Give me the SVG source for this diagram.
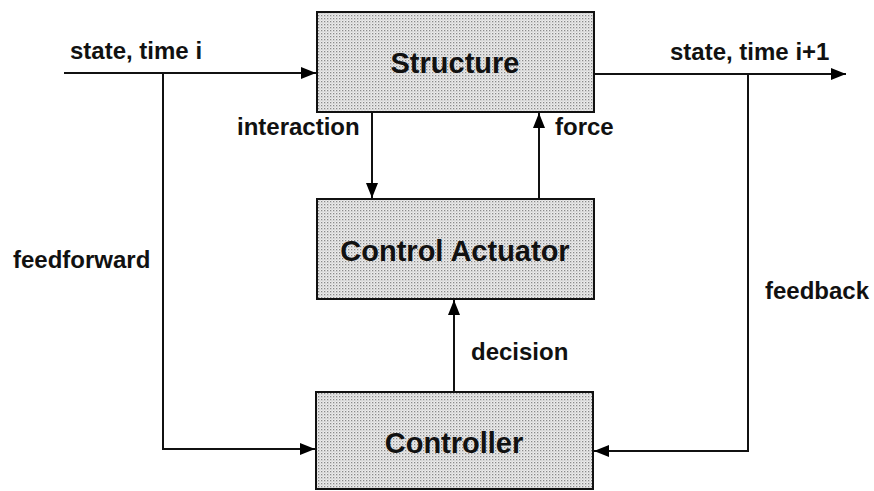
<svg xmlns="http://www.w3.org/2000/svg" width="874" height="491" viewBox="0 0 874 491">
<defs>
<pattern id="dots" width="3" height="3" patternUnits="userSpaceOnUse">
<rect width="3" height="3" fill="#ececec"/>
<rect x="0" y="0" width="1.3" height="1.3" fill="#8a8a8a"/>
<rect x="1.5" y="1.5" width="1" height="1" fill="#b5b5b5"/>
</pattern>
<marker id="ah" markerWidth="16" markerHeight="12" refX="15" refY="6" orient="auto" markerUnits="userSpaceOnUse">
<path d="M0,0 L15,6 L0,12 Z" fill="#000"/>
</marker>
</defs>
<style>
.box{fill:url(#dots);stroke:#111;stroke-width:2}
.t{font-family:"Liberation Sans",Arial,sans-serif;font-weight:bold;fill:#111}
.big{font-size:29px;text-anchor:middle}
.lbl{font-size:24px}
.c{fill:none;stroke:#111;stroke-width:2}
</style>
<g id="connectors">
<path class="c" d="M64,73 L316,73" marker-end="url(#ah)"/>
<path class="c" d="M163,73 L163,449 L315,449" marker-end="url(#ah)"/>
<path class="c" d="M594,74 L846,74" marker-end="url(#ah)"/>
<path class="c" d="M748,74 L748,451 L594,451" marker-end="url(#ah)"/>
<path class="c" d="M372,112 L372,198" marker-end="url(#ah)"/>
<path class="c" d="M539,199 L539,113" marker-end="url(#ah)"/>
<path class="c" d="M454,392 L454,300" marker-end="url(#ah)"/>
<text class="t lbl" x="70" y="59">state, time i</text>
<text class="t lbl" x="670" y="60">state, time i+1</text>
<text class="t lbl" x="237" y="135">interaction</text>
<text class="t lbl" x="555" y="135">force</text>
<text class="t lbl" x="13" y="268">feedforward</text>
<text class="t lbl" x="765" y="299">feedback</text>
<text class="t lbl" x="471" y="360">decision</text>
</g>
<g id="structure">
<rect class="box" x="317" y="12" width="277" height="100"/>
<text class="t big" x="455" y="73">Structure</text>
</g>
<g id="actuator">
<rect class="box" x="317" y="199" width="277" height="100"/>
<text class="t big" x="455" y="261">Control Actuator</text>
</g>
<g id="controller">
<rect class="box" x="316" y="392" width="277" height="97"/>
<text class="t big" x="454" y="453">Controller</text>
</g>
</svg>
